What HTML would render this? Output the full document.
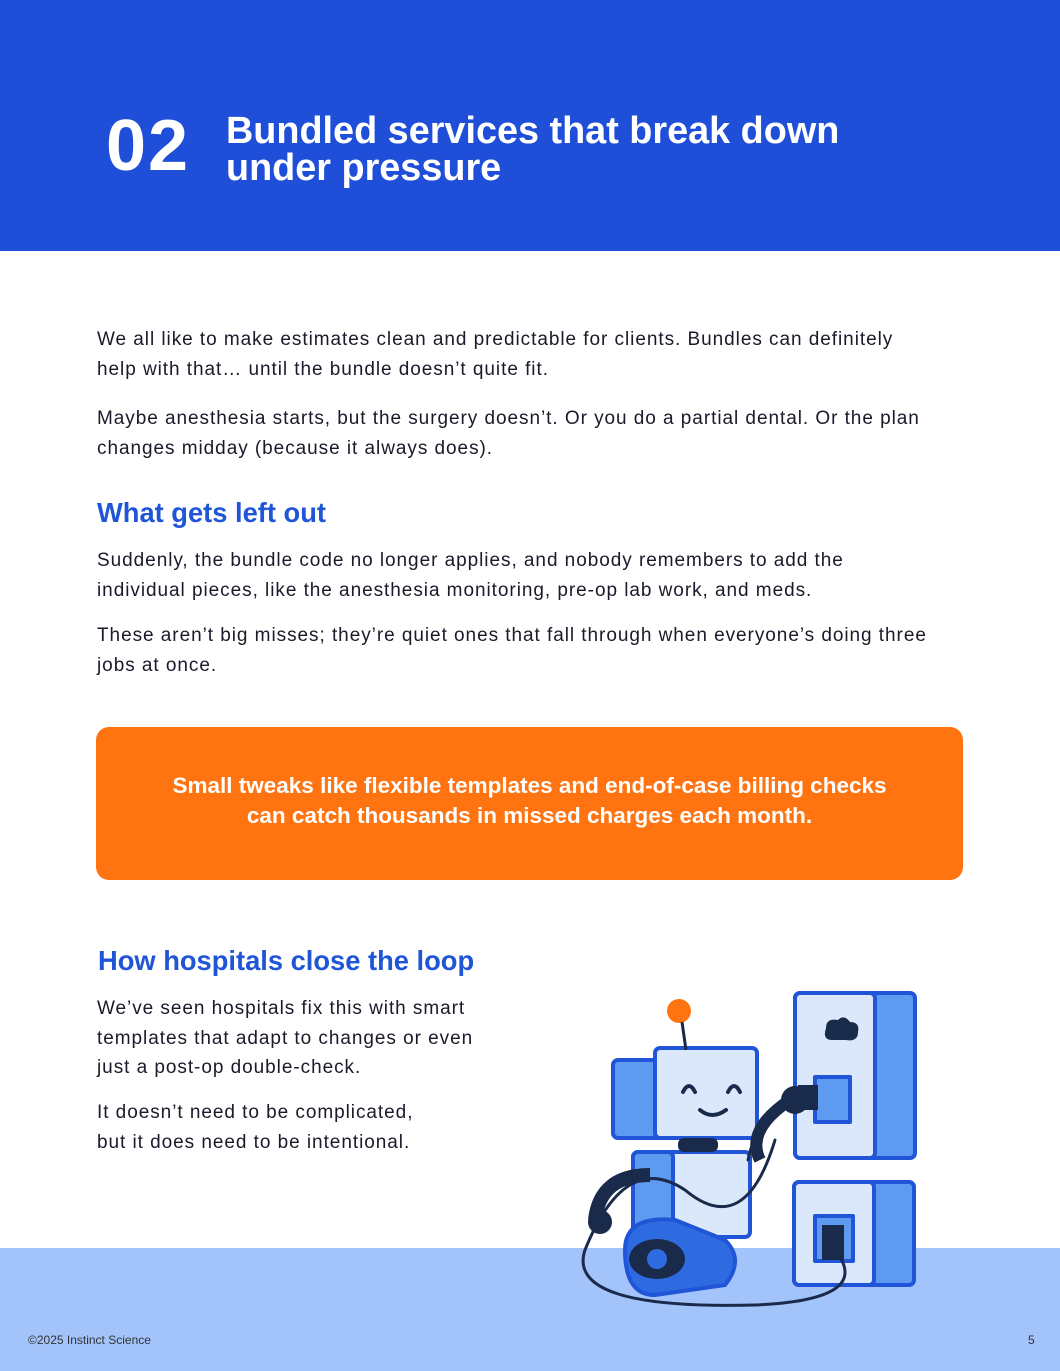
<!DOCTYPE html>
<html><head><meta charset="utf-8"><style>
body{margin:0;width:1060px;height:1371px;position:relative;overflow:hidden;background:#fff;font-family:"Liberation Sans",sans-serif;}
.hdr{position:absolute;left:0;top:0;width:1060px;height:251px;background:#1f4fd8;}
.num{position:absolute;left:106px;top:106px;font-size:72px;font-weight:bold;color:#fff;letter-spacing:2px;line-height:80px;}
.ttl{position:absolute;left:226px;top:113px;font-size:37.8px;line-height:37px;font-weight:bold;color:#fff;}
p{position:absolute;left:97px;margin:0;font-size:19px;line-height:29.5px;color:#1a1a2a;white-space:nowrap;letter-spacing:0.95px;}
h2{position:absolute;left:97px;margin:0;font-size:27.3px;font-weight:bold;color:#1f55d6;}
.box{position:absolute;left:96px;top:727px;width:867px;height:153px;background:#ff7411;border-radius:13px;color:#fff;font-weight:bold;font-size:22.5px;line-height:30px;text-align:center;box-sizing:border-box;padding-top:44px;}
.ftr{position:absolute;left:0;top:1248px;width:1060px;height:123px;background:#a3c4fb;}
.fs{position:absolute;top:1333px;font-size:12px;color:#333;}
</style></head><body>
<div class="hdr"></div>
<div class="num">02</div>
<div class="ttl">Bundled services that break down<br>under pressure</div>
<p style="top:325px">We all like to make estimates clean and predictable for clients. Bundles can definitely<br>help with that… until the bundle doesn’t quite fit.</p>
<p style="top:404px">Maybe anesthesia starts, but the surgery doesn’t. Or you do a partial dental. Or the plan<br>changes midday (because it always does).</p>
<h2 style="top:497px">What gets left out</h2>
<p style="top:546px">Suddenly, the bundle code no longer applies, and nobody remembers to add the<br>individual pieces, like the anesthesia monitoring, pre-op lab work, and meds.</p>
<p style="top:621px">These aren’t big misses; they’re quiet ones that fall through when everyone’s doing three<br>jobs at once.</p>
<div class="box">Small tweaks like flexible templates and end-of-case billing checks<br>can catch thousands in missed charges each month.</div>
<h2 style="top:945px;left:98px">How hospitals close the loop</h2>
<p style="top:994px">We’ve seen hospitals fix this with smart<br>templates that adapt to changes or even<br>just a post-op double-check.</p>
<p style="top:1098px">It doesn’t need to be complicated,<br>but it does need to be intentional.</p>
<div class="ftr"></div>
<svg style="position:absolute;left:0;top:0" width="1060" height="1371">
<g stroke="#1f55d6" stroke-width="4" stroke-linejoin="round">
<rect x="795" y="993" width="120" height="165" rx="5" fill="#5d9af0"/>
<rect x="795" y="993" width="80" height="165" rx="5" fill="#dbe8fb"/>
<rect x="815" y="1077" width="35" height="45" fill="#5d9af0"/>
<rect x="794" y="1182" width="120" height="103" rx="5" fill="#5d9af0"/>
<rect x="794" y="1182" width="80" height="103" rx="5" fill="#dbe8fb"/>
<rect x="815" y="1216" width="38" height="45" fill="#5d9af0"/>
<rect x="633" y="1152" width="117" height="85" rx="5" fill="#dbe8fb"/>
<rect x="633" y="1152" width="40" height="85" rx="5" fill="#5d9af0"/>
<rect x="613" y="1060" width="50" height="78" rx="5" fill="#5d9af0"/>
<rect x="655" y="1048" width="102" height="90" rx="5" fill="#dbe8fb"/>
</g>
<circle cx="679" cy="1011" r="12" fill="#ff7411"/>
<line x1="682" y1="1022" x2="686" y2="1050" stroke="#1a2a4a" stroke-width="3"/>
<rect x="678" y="1138" width="40" height="14" rx="6" fill="#1a2a4a"/>
<g fill="none" stroke="#1a2a4a" stroke-width="4" stroke-linecap="round">
<path d="M683 1092q6-12 12 0M728 1092q6-12 12 0M700 1110q12 10 26 0"/>
<path d="M808 1100q-50 10-60 60M775 1140q-30 100-90 50q-60-40-100 60q-20 60 170 55q120-5 80-55" stroke-width="3"/>
</g>
<path d="M760 1160q-15-30 30-60" stroke="#1a2a4a" stroke-width="12" fill="none"/>
<path d="M650 1175q-50 0-55 45" stroke="#1a2a4a" stroke-width="14" fill="none"/>
<circle cx="600" cy="1222" r="12" fill="#1a2a4a"/>
<circle cx="795" cy="1100" r="14" fill="#1a2a4a"/>
<rect x="798" y="1085" width="20" height="25" fill="#1a2a4a"/>
<rect x="822" y="1225" width="22" height="35" fill="#1a2a4a"/>
<path d="M625 1250q0-35 50-30l50 20q20 20 0 45l-70 10q-30 0-30-45z" fill="#2f6be0" stroke="#1f55d6" stroke-width="4"/>
<ellipse cx="657" cy="1259" rx="28" ry="20" fill="#1a2a4a"/>
<circle cx="657" cy="1259" r="10" fill="#2f6be0"/>
<path d="M826 1028q0-10 12-8q6-6 12 2q10 0 8 10q0 10-12 8h-14q-10 0-6-12z" fill="#1a2a4a"/>
</svg>
<div class="fs" style="left:28px">©2025 Instinct Science</div>
<div class="fs" style="left:1028px">5</div>
</body></html>
